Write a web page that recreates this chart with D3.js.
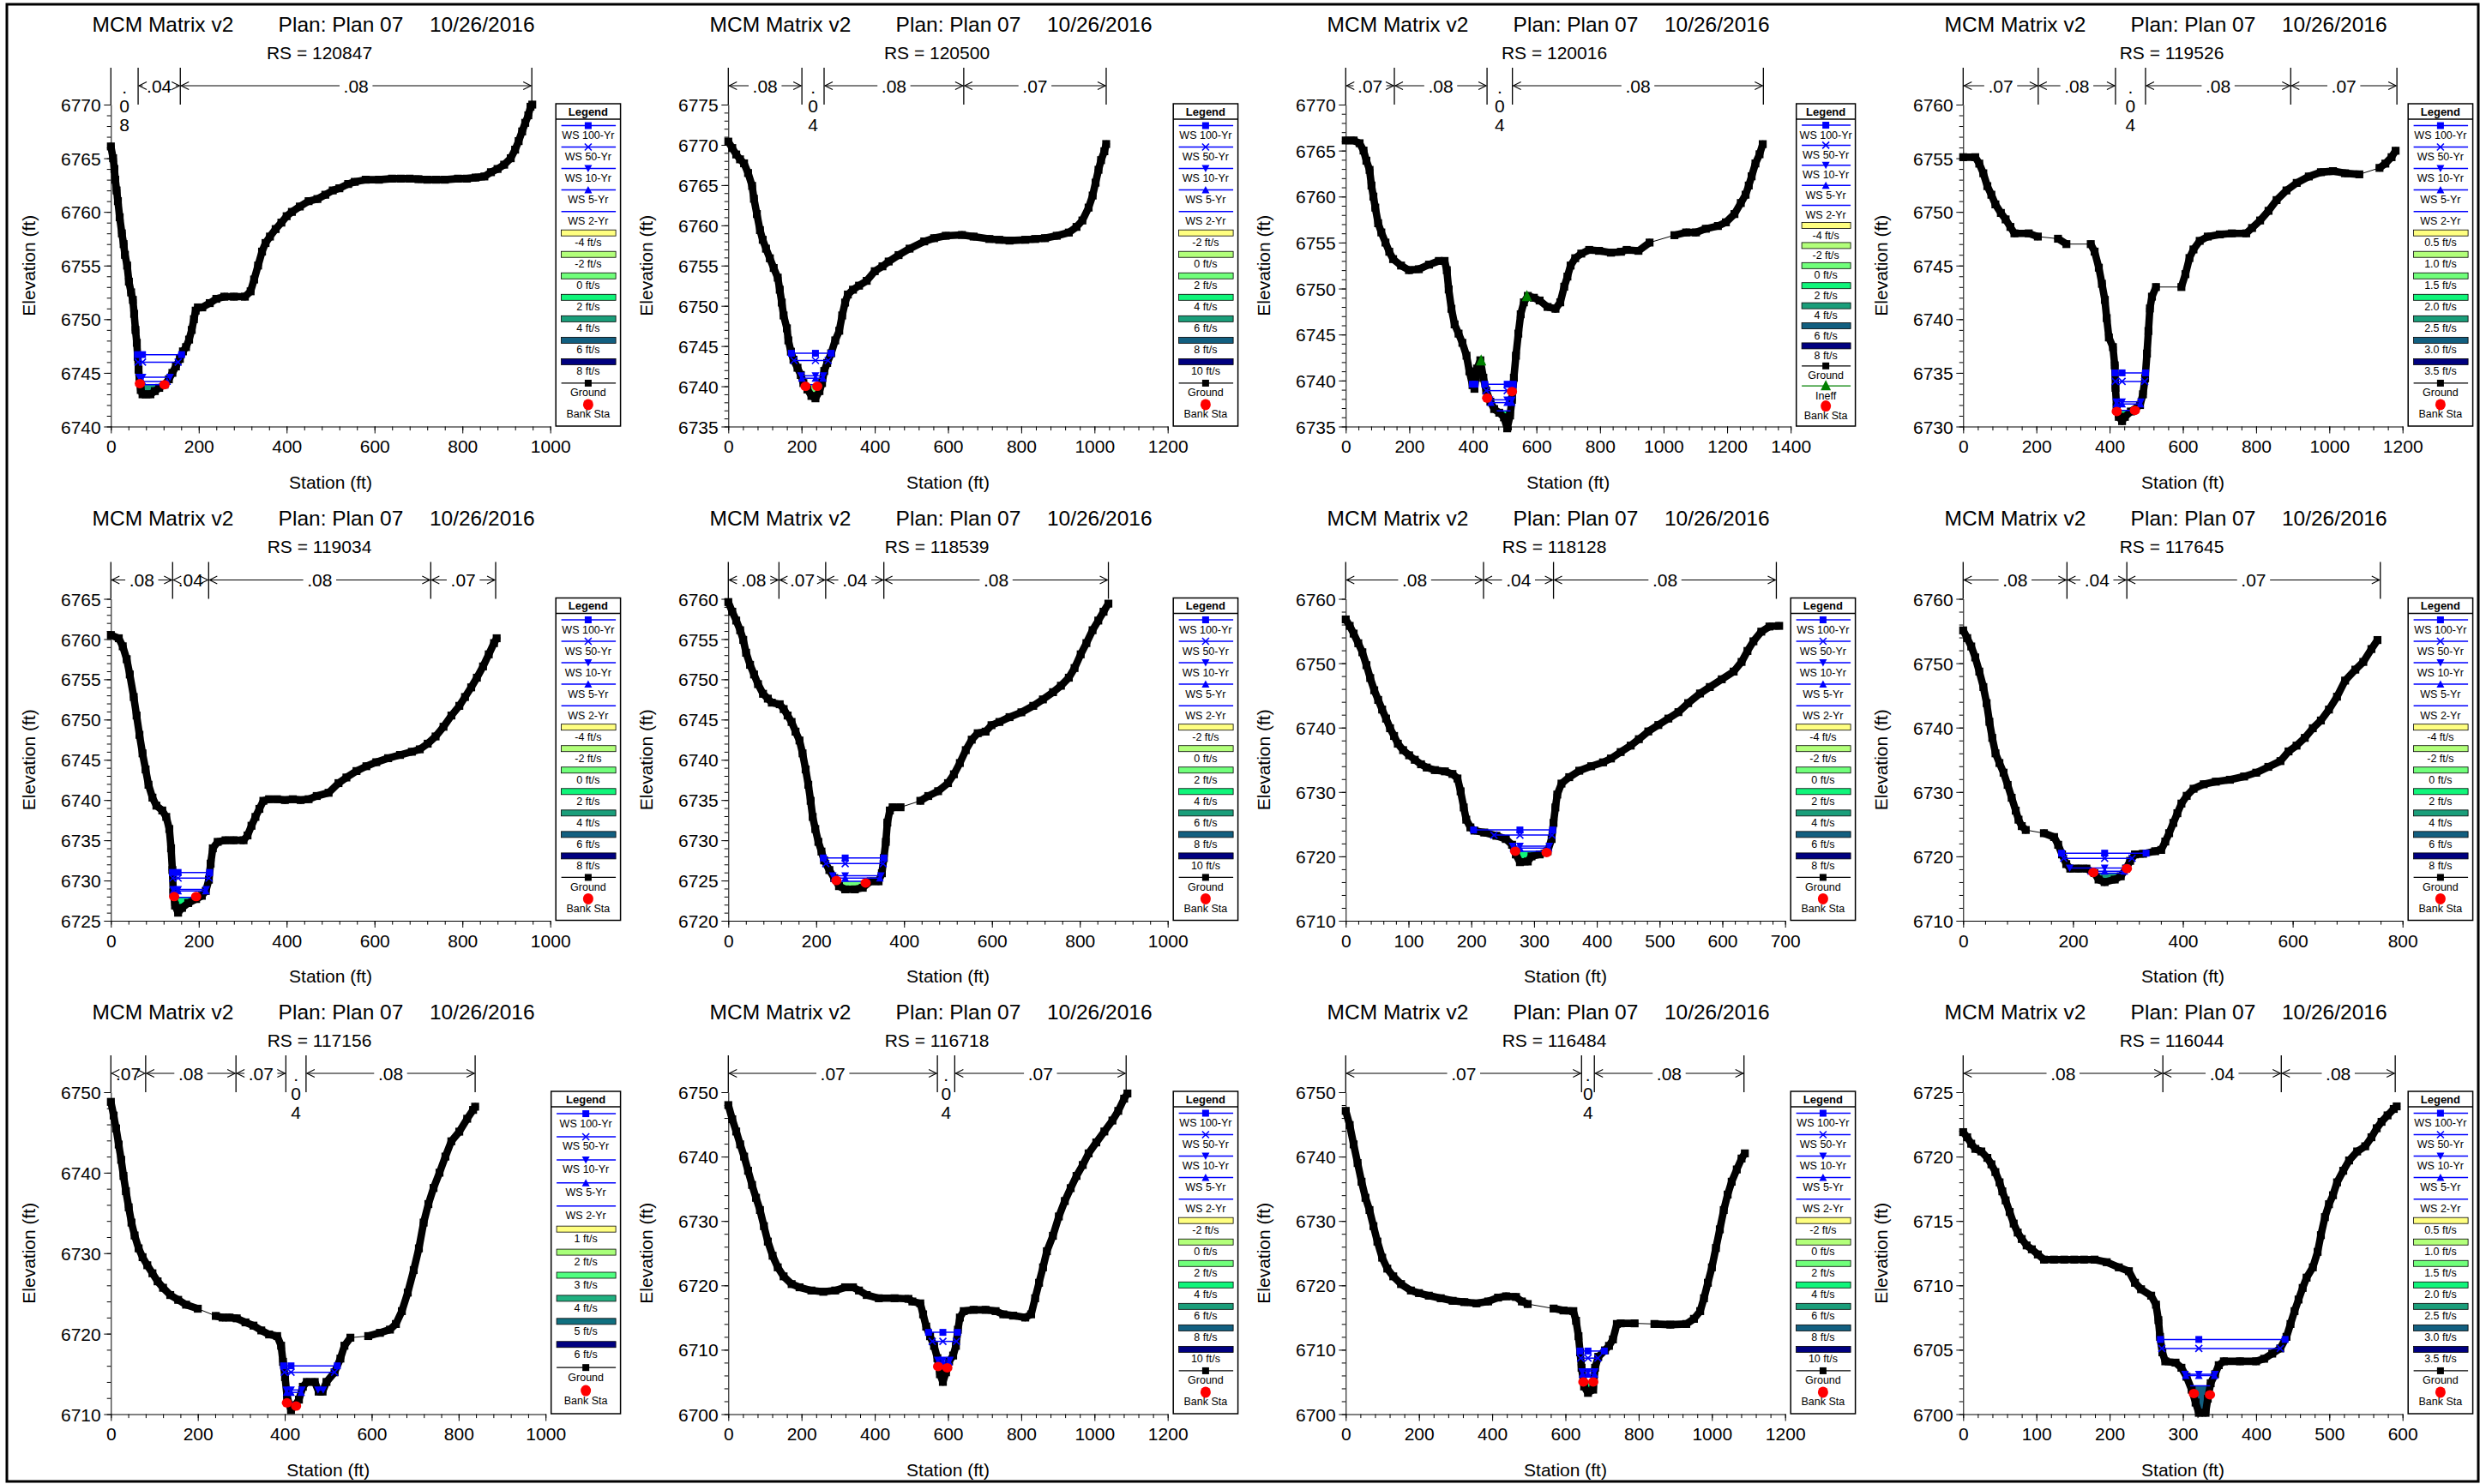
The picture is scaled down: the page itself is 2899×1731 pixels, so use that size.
<!DOCTYPE html>
<html><head><meta charset="utf-8">
<script src="https://cdn.jsdelivr.net/npm/d3@7"></script>
<style>
body{margin:0;background:#fff}
svg{display:block}
text{font-family:"Liberation Sans",Arial,Helvetica,sans-serif;fill:#000}
</style>
</head><body>
<svg id="chart" width="2899" height="1731"></svg>
<script>
// ---------------- DATA ----------------
const projectName = "MCM Matrix v2";
const planLabel = "Plan: Plan 07";
const planDate = "10/26/2016";
const axisTitles = ["Station (ft)", "Elevation (ft)"];
const legendTitle = "Legend";
const wsNames = ["WS 100-Yr", "WS 50-Yr", "WS 10-Yr", "WS 5-Yr", "WS 2-Yr"];
const groundName = "Ground", ineffName = "Ineff", bankName = "Bank Sta";

const stations = ["120847","120500","120016","119526","119034","118539","118128","117645","117156","116718","116484","116044"];
const xDomains = [[0,1000],[0,1200],[0,1400],[0,1200],[0,1000],[0,1000],[0,700],[0,800],[0,1000],[0,1200],[0,1200],[0,600]];
const xSteps = [200,200,200,200,200,200,100,200,200,200,200,100];
const yDomains = [[6740,6770],[6735,6775],[6735,6770],[6730,6760],[6725,6765],[6720,6760],[6710,6760],[6710,6760],[6710,6750],[6700,6750],[6700,6750],[6700,6725]];
const ySteps = [5,5,5,5,5,5,10,10,10,10,10,5];

// water surface elevations: 100, 50, 10, 5, 2 yr
const wsElev = [
  [6746.7,6746.0,6744.6,6744.2,6743.9],
  [6744.1,6743.2,6741.3,6741.0,6740.2],
  [6739.6,6738.9,6737.9,6737.6,6736.7],
  [6735.0,6734.2,6732.3,6732.1,6731.5],
  [6731.0,6730.3,6728.9,6728.7,6727.9],
  [6727.8,6727.1,6725.6,6725.3,6724.9],
  [6724.1,6723.3,6721.6,6721.3,6720.8],
  [6720.5,6719.7,6718.2,6717.7,6717.4],
  [6716.0,6715.2,6713.0,6712.7,6711.4],
  [6712.7,6711.3,6708.4,6708.1,6707.4],
  [6709.8,6708.7,6706.6,6706.2,6705.0],
  [6705.8,6705.1,6703.1,6703.0,6702.2]
];
const bankSta = [
  [[66,6744.0],[122,6743.9]],
  [[211,6740.0],[243,6740.0]],
  [[445,6738.1],[523,6738.8]],
  [[419.5,6731.4],[469,6731.5]],
  [[144,6728.0],[194,6728.0]],
  [[246,6725.0],[312.6,6724.7]],
  [[270,6720.8],[320,6720.6]],
  [[237,6717.5],[298,6718.1]],
  [[405,6711.4],[426,6711.0]],
  [[573,6707.4],[598,6707.2]],
  [[649,6705.0],[676,6705.0]],
  [[315,6701.6],[337,6701.5]]
];
const ineffSta = [[],[],[[426,6742.2],[570,6749.2]],[],[],[],[],[],[],[],[],[]];
const nBreaks = [
  [0,62,158,958],
  [0,201,261.6,643,1032],
  [0,153,444.6,524.4,1314],
  [0,205,416,498,894.6,1184.6],
  [0,140.5,222.5,728,875.7],
  [0,115.3,221.6,354,865],
  [0,219.5,331,686],
  [0,189,298,759.5],
  [0,80,287.8,402.6,449,838],
  [0,571,618.4,1086.5],
  [0,644,679,1087.6],
  [0,272.7,434.4,590]
];
const nValues = [
  [".08",".04",".08"],
  [".08",".04",".08",".07"],
  [".07",".08",".04",".08"],
  [".07",".08",".04",".08",".07"],
  [".08",".04",".08",".07"],
  [".08",".07",".04",".08"],
  [".08",".04",".08"],
  [".08",".04",".07"],
  [".07",".08",".07",".04",".08"],
  [".07",".04",".07"],
  [".07",".04",".08"],
  [".08",".04",".08"]
];
const velA = ["-4 ft/s","-2 ft/s","0 ft/s","2 ft/s","4 ft/s","6 ft/s","8 ft/s"];
const velB = ["-2 ft/s","0 ft/s","2 ft/s","4 ft/s","6 ft/s","8 ft/s","10 ft/s"];
const velC = ["0.5 ft/s","1.0 ft/s","1.5 ft/s","2.0 ft/s","2.5 ft/s","3.0 ft/s","3.5 ft/s"];
const velD = ["1 ft/s","2 ft/s","3 ft/s","4 ft/s","5 ft/s","6 ft/s"];
const velLegends = [velA, velB, velA, velC, velA, velB, velA, velA, velD, velB, velB, velC];
// channel velocity shown under the 2-yr water surface (ft/s)
const vel2yr = [4, 2, 2, 2.0, 2, 2, 2, 4, 4, 4, 4, 3.0];

// ground profiles [station, elevation]
const ground_120847 = [[0,6766.1],[5,6765],[8,6764],[10,6763],[13,6762],[16,6761],[20,6759.5],[25,6758],[29,6757],[32,6756],[37,6755],[41,6753.5],[46,6752.5],[50,6751.8],[53,6750.5],[56,6749],[59,6747.8],[61,6746.5],[63,6745.3],[65,6744.3],[68,6743.4],[72,6743],[80,6743],[90,6743],[100,6743.3],[110,6743.6],[122,6743.9],[132,6744.4],[140,6745],[148,6745.6],[157,6746.3],[164,6747],[171,6747.4],[178,6748.1],[184,6749],[189,6750],[193,6750.8],[198,6751.1],[208,6751.1],[225,6751.5],[240,6751.9],[258,6752.1],[280,6752.1],[305,6752.1],[318,6752.6],[326,6753.7],[335,6755],[344,6756.3],[352,6757.1],[362,6757.7],[375,6758.4],[388,6759],[400,6759.6],[412,6760],[430,6760.5],[450,6761],[470,6761.2],[488,6761.6],[505,6762],[520,6762.2],[540,6762.6],[555,6762.8],[580,6763],[610,6763],[640,6763.1],[660,6763.1],[680,6763.1],[700,6763.05],[720,6763],[740,6763],[760,6763],[790,6763.1],[810,6763.1],[830,6763.2],[850,6763.3],[865,6763.7],[880,6764],[895,6764.4],[910,6765],[920,6765.8],[928,6766.6],[936,6767.5],[943,6768.3],[950,6769],[955,6769.8],[959,6770]];
const ground_120500 = [[0,6770.4],[10.8,6769.6],[21.6,6768.8],[32,6768.2],[43,6767.7],[54,6766.5],[65,6764.9],[70,6763.3],[78,6761.4],[86.5,6759.4],[94,6758.2],[103,6757.1],[113.5,6755.9],[124,6754.7],[135,6753.5],[140.5,6752],[146,6750.4],[151,6748.8],[160,6747.2],[164,6745.7],[171,6744.3],[178,6743.3],[189,6742.3],[198,6741.4],[205,6740.4],[216,6739.6],[227,6738.8],[238,6738.5],[249,6739.4],[256,6740.4],[262,6741.9],[270,6742.9],[281,6744.1],[292,6745.7],[303,6746.9],[311,6748.8],[319,6750.4],[326.5,6751.4],[340.5,6752],[357,6752.5],[378,6753.1],[400,6754.3],[421,6754.9],[438,6755.5],[465,6756.3],[495,6757.1],[535,6758],[562,6758.4],[594,6758.7],[638,6758.8],[670,6758.6],[713,6758.3],[740,6758.2],[768,6758.1],[811,6758.2],[838,6758.3],[865,6758.4],[897,6758.7],[930,6759.1],[951,6759.8],[967,6760.6],[984,6762.2],[995,6763.7],[1003,6765.3],[1011,6766.9],[1018,6768.1],[1027,6769.2],[1032,6770.1]];
const ground_120016 = [[0,6766.1],[25,6766.1],[43.6,6765.8],[56,6765],[65,6763.9],[75,6762.9],[81,6761.2],[87,6760],[93,6758.8],[102,6757.1],[112,6756.1],[125,6755],[137,6754],[149,6753.2],[174,6752.5],[199,6752],[230,6752.1],[262,6752.6],[293,6753],[311,6753],[318,6752],[324,6749.9],[332.5,6747.8],[342.5,6746.1],[355,6745.1],[367,6744.1],[380,6742.7],[389,6741],[399,6739.5],[405,6739.1],[413.5,6741.3],[423.5,6742.2],[433,6740.3],[442,6738.9],[455,6737.7],[467,6736.9],[483,6736.5],[498,6736],[508,6734.8],[517,6736.2],[523,6737.9],[529,6740.3],[535.5,6742.7],[543,6745.1],[550.5,6747.2],[560.5,6748.5],[573,6749.2],[592,6749],[610,6748.7],[635,6748],[660,6747.8],[675,6748.5],[687.5,6750.2],[697.5,6751.3],[707.5,6752.5],[722,6753.3],[741,6753.8],[766,6754.2],[797,6754.1],[834.5,6753.9],[866,6754],[884,6754.2],[921,6754.1],[956,6755],[1034,6755.8],[1071,6756.1],[1102,6756.1],[1133,6756.5],[1171,6756.8],[1196,6757.2],[1223,6758.1],[1243,6759.3],[1258,6760.2],[1268,6761.2],[1277,6762.2],[1289,6763.6],[1302,6764.6],[1312,6765.7]];
const ground_119526 = [[0,6755.1],[33,6755.1],[44,6754.5],[55,6753.6],[66,6752.4],[77,6751.6],[88,6750.7],[103,6749.9],[116,6749.3],[129,6748.6],[140,6748],[179,6748],[204,6747.7],[259,6747.5],[282,6747],[348.5,6747],[359,6746.3],[370.5,6744.8],[379,6743.3],[387,6741.8],[392,6740.1],[398,6738.3],[409,6737.4],[414,6735.7],[416,6733.6],[419,6731.8],[425,6730.9],[434,6730.5],[441.6,6730.9],[458,6731.4],[483,6732],[491,6733],[497,6734.5],[502,6736.8],[506,6738.9],[510,6741],[515.6,6742.1],[526.6,6743],[596,6743],[607,6744.2],[618,6745.7],[629,6746.5],[646,6747.3],[668,6747.7],[701,6747.9],[734,6748],[773,6748],[789,6748.5],[811,6749.2],[834,6750.1],[856,6751.1],[883,6752],[911,6752.7],[944,6753.3],[977,6753.7],[1010,6753.8],[1043,6753.6],[1082,6753.5],[1137,6754.1],[1153,6754.5],[1170,6755.1],[1181,6755.7]];
const ground_119034 = [[0,6760.5],[18,6760.1],[27,6759.1],[36,6757.5],[43,6755.6],[52,6752.8],[58.5,6750.5],[65,6748.1],[72,6745.8],[79,6743.8],[85.6,6741.9],[94.6,6740.3],[103.6,6739.3],[117,6738.7],[126,6737.9],[133,6736.4],[137,6734],[140,6731.3],[142,6728.5],[146,6726.9],[153,6726],[162,6726.6],[176,6727.2],[194,6727.7],[207,6728.1],[216,6728.7],[223,6730.1],[227,6732.1],[232,6734],[243,6734.8],[261,6735],[279,6735],[302,6735],[311,6735.6],[320,6736.8],[329,6737.9],[338,6738.9],[347,6739.9],[360,6740.1],[378,6740.1],[396,6740],[414,6740.1],[432,6740],[450,6740.1],[468.5,6740.5],[495.5,6740.9],[518,6742.1],[536,6742.8],[559,6743.6],[581.5,6744.2],[604,6744.7],[631,6745.2],[658,6745.6],[685,6746],[703,6746.3],[721,6747],[739,6747.9],[757,6749.1],[775,6750.5],[793,6751.7],[806,6752.8],[820,6754],[833,6755.2],[847,6756.6],[860,6758.1],[872,6759.5],[878,6760.1]];
const ground_118539 = [[0,6759.6],[9,6758.4],[18,6757.3],[27,6756.1],[34,6754.9],[40.5,6753.3],[49.5,6751.8],[58.6,6750.6],[67.6,6749.4],[79,6748.2],[90,6747.6],[99,6747.1],[117,6746.9],[126,6746.3],[135,6745.5],[144,6744.7],[153,6743.5],[162,6742.4],[169,6740.8],[176,6738.8],[182,6736.9],[187.4,6734.9],[192,6732.9],[198,6731.4],[205,6729.8],[212,6728.6],[218,6727.5],[230,6726.3],[241,6725.3],[252,6724.3],[266,6723.9],[288,6723.9],[306,6724.1],[324,6724.9],[342,6724.9],[349.5,6725.9],[354,6727.8],[358.5,6729.8],[362,6732.2],[367.6,6733.7],[374,6734.1],[392,6734.1],[437,6734.9],[455,6735.5],[477.5,6736.1],[500,6737.1],[513.5,6738.2],[527,6739.6],[540.5,6741.2],[554,6742.5],[567.6,6743.3],[585.6,6743.5],[599,6744.3],[617,6744.7],[640,6745.3],[667,6745.9],[694,6746.7],[716,6747.5],[739,6748.4],[757,6749.2],[775,6750.2],[788,6751.4],[802,6753.1],[815,6754.5],[829,6756.1],[842,6757.3],[854,6758.4],[865,6759.4]];
const ground_118128 = [[0,6756.8],[6.3,6755.8],[12.6,6754.6],[20,6753.1],[26.5,6751.7],[33,6749.7],[39,6747.7],[45.4,6745.8],[51.7,6744.3],[58,6742.8],[64.3,6741.4],[70.6,6739.9],[77,6738.7],[83,6737.5],[91.4,6736.5],[101,6735.7],[110,6735],[120,6734.3],[129,6733.8],[142,6733.4],[158,6733.2],[170,6732.8],[178,6732.1],[183,6730.1],[188,6727.6],[192,6725.7],[198.6,6724.5],[205,6724],[220.7,6723.7],[240,6723.2],[255,6722.7],[265,6721.8],[271,6720.3],[277.5,6719.1],[290,6719.2],[296,6720],[309,6720.3],[321.6,6720.8],[328,6722.7],[331,6725.2],[334,6727.6],[337,6729.6],[343.7,6731.3],[356,6732.3],[372,6733.3],[391,6734],[410,6734.6],[422.5,6735.2],[438,6736.2],[454,6737.2],[467,6738.2],[482,6739.4],[498,6740.4],[514,6741.4],[530,6742.4],[545.5,6743.8],[564.4,6745.3],[580,6746.3],[599,6747.5],[618,6748.7],[630.6,6750.2],[640,6751.9],[649.5,6753.4],[662,6754.9],[675,6755.7],[690.5,6755.8]];
const ground_117645 = [[0,6755.1],[7.4,6753.9],[14.7,6752.6],[22,6750.9],[29.4,6748.7],[36.8,6746.3],[42.7,6743.8],[47.8,6740.9],[53,6738.4],[58.9,6736],[66,6734.5],[73.6,6733],[81,6731.1],[88.3,6729.1],[95.7,6727.1],[100.8,6725.7],[106.7,6724.7],[114,6724.1],[147,6723.6],[165.6,6723],[173,6721.8],[180,6720.3],[187.7,6718.8],[195,6718.1],[210,6718.1],[224.5,6718.1],[239,6717.4],[246.5,6716.4],[257.6,6716],[276,6716.4],[287,6716.9],[296.6,6718.1],[304,6719.3],[312.8,6720.3],[327.5,6720.4],[349.6,6720.8],[360.6,6721],[368,6722.3],[375,6723.6],[382.7,6725.2],[390,6726.7],[397.4,6728.2],[407,6729.4],[419.5,6730.5],[438,6731.2],[460,6731.6],[485.7,6731.9],[511.5,6732.4],[533.6,6733],[555.6,6733.9],[577.7,6734.8],[592.4,6736.3],[607,6737.2],[622,6738.4],[636.6,6739.9],[651.3,6741.1],[666,6742.8],[680.7,6744.8],[695.4,6747.3],[714,6749],[728.5,6750.2],[743.3,6752.2],[754.3,6753.6]];
const ground_117156 = [[0,6748.8],[6.4,6747.1],[12,6745.5],[18,6743.5],[23.7,6741.6],[29,6739.6],[34.6,6737.7],[41,6735.7],[47.4,6733.8],[54.6,6732.2],[63.8,6730.6],[72.9,6729.5],[83.8,6728.5],[95.6,6727.5],[107.5,6726.5],[120,6725.7],[136.6,6724.8],[154.8,6724.2],[173,6723.6],[200,6723.1],[241.3,6722.2],[257,6722],[273,6722],[289.6,6721.9],[309.7,6721.4],[328,6721],[346,6720.4],[364,6719.9],[382.5,6719.7],[391.6,6718.5],[396,6716.5],[400.7,6714.6],[405.3,6712.2],[414.4,6710.5],[423.5,6711.1],[432.6,6711.8],[441.7,6713.4],[450.8,6714],[469,6714],[478,6712.8],[487,6712.8],[496,6714],[514.6,6715.2],[528,6716.9],[537.3,6718.5],[551,6719.5],[592,6719.7],[619,6720.1],[642,6720.5],[655.7,6721.2],[669.4,6722.8],[683,6725.1],[696.7,6727.9],[708.6,6730.6],[719.5,6733.8],[730.4,6736.1],[742.3,6738.1],[756,6740],[769.6,6742],[783.2,6743.9],[801.5,6745.1],[819.7,6746.7],[833.3,6747.8],[838,6748.2]];
const ground_116718 = [[0,6748],[10.8,6745.8],[21.6,6743.9],[32.4,6741.9],[43.2,6740],[54,6737.8],[64.9,6735.6],[75.7,6733.6],[86.5,6731.7],[97.3,6729.2],[108,6726.8],[121,6724.6],[135,6722.8],[151,6721.4],[173,6720.2],[194.6,6719.7],[227,6719.2],[259.5,6719],[292,6719.2],[319,6719.7],[340.5,6719.7],[356.8,6719.2],[378,6718.5],[411,6718],[454,6718],[492,6717.9],[502.7,6717.5],[524.3,6717.2],[532,6715.5],[540.5,6713.6],[551,6712.1],[562,6710.6],[571,6708.7],[578,6706.2],[586,6705],[594.6,6706.5],[603,6708.2],[614,6709.1],[621.6,6710.6],[627,6713.1],[632.4,6715],[643,6716],[670,6716.2],[702.7,6716.2],[730,6716],[751,6715.5],[778,6715.3],[811,6715],[827,6715.5],[838,6718],[848.6,6720.4],[859.5,6722.8],[870,6725.3],[886.5,6727.7],[902.7,6730.7],[919,6733.1],[935,6735.1],[951,6737],[968,6738.7],[984,6740.5],[1005,6742.2],[1027,6743.9],[1049,6745.6],[1065,6747.1],[1081,6749],[1090,6749.8]];
const ground_116484 = [[0,6747.1],[10.8,6744.9],[21.6,6741.9],[32.4,6739],[43.2,6736.1],[54,6733.6],[64.9,6731.7],[75.7,6729.2],[86.5,6726.8],[99.5,6724.3],[113.5,6722.6],[129.7,6721.4],[151,6720.2],[178,6719.2],[200,6718.8],[227,6718.4],[259.5,6718],[292,6717.6],[324,6717.4],[357,6717.2],[389,6717.5],[416,6718.1],[438,6718.3],[465,6718.2],[481,6717.5],[497,6717.1],[567.6,6716.4],[594.6,6716.1],[621.6,6716],[629,6714.5],[635.7,6712.1],[640,6709.6],[644,6707.2],[651,6704.3],[661.6,6703.3],[675.7,6703.8],[681,6707.2],[689.7,6708.9],[708,6709.9],[719,6710.6],[729.7,6711.6],[740.5,6714],[751,6714.1],[789,6714.1],[843,6714],[886.5,6713.9],[930,6714],[951,6714.8],[968,6716],[978.4,6718],[989,6720.4],[1000,6722.8],[1011,6725.8],[1021.6,6728.7],[1032.4,6731.7],[1043,6734.1],[1054,6736.1],[1068,6738],[1081,6739.7],[1090,6740.5]];
const ground_116044 = [[0,6721.9],[5.5,6721.5],[11,6721],[16.6,6720.6],[24.8,6720.4],[33,6719.9],[38.6,6719.4],[44,6718.8],[49.7,6718],[53.5,6717.3],[58,6716.6],[63.5,6715.7],[69,6714.8],[74.5,6714.1],[80,6713.6],[86.7,6713.1],[93.8,6712.8],[102,6712.4],[110.4,6712],[124,6712],[138,6712],[151.8,6712],[165,6712],[179.4,6712],[196,6711.8],[212.5,6711.4],[226.3,6711.1],[234.6,6710.2],[242.9,6709.7],[256.7,6709.2],[263.3,6708.5],[266.6,6707.3],[268.8,6706],[272,6704.8],[276,6704.1],[290,6704],[298,6703.6],[305,6702.9],[312,6701.9],[317.4,6700.9],[321.8,6700.1],[331,6700.1],[334,6701.2],[338,6702.4],[344,6703.1],[349,6703.8],[356,6704.1],[378,6704.1],[400,6704.1],[411,6704.3],[422,6704.7],[433,6705.1],[441.5,6706],[447,6707],[452.5,6708],[458,6708.9],[463.6,6709.8],[469,6710.6],[477.5,6711.4],[484,6712.6],[488.5,6713.9],[494,6715.3],[499.5,6716.3],[505,6717],[510.6,6718],[519,6718.9],[527,6719.7],[538,6720.4],[549,6720.8],[557.5,6721.5],[564.7,6722.2],[571.3,6722.7],[579.5,6723.2],[588,6723.7],[592,6723.9]];
const grounds = [ground_120847, ground_120500, ground_120016, ground_119526, ground_119034, ground_118539, ground_118128, ground_117645, ground_117156, ground_116718, ground_116484, ground_116044];

// ---------------- LAYOUT / STYLE ----------------
const colX = [0, 720, 1440, 2160];
const rowY = [0, 576.5, 1152];
const PL = 129.3, PT = 122, PB = 497.5, LEG_R = 723.6;
const plotRight = [641.7,641.7,648.2,641.7,641.7,641.7,641.7,641.7,636.2,641.7,641.7,641.7];
const WS_COLOR = "#0000ff";
const pal7 = ["#ffff80","#b2ff7a","#70ff7a","#10f57a","#1a9e7a","#125f80","#000080"];
const pal6 = ["#ffff80","#a8ff7a","#50ff80","#20b080","#107080","#000080"];

const svg = d3.select("#chart");
svg.append("rect").attr("x",8).attr("y",5).attr("width",2882).attr("height",1723)
  .attr("fill","none").attr("stroke","#000").attr("stroke-width",3);

stations.forEach((rs, i) => drawPanel(i));

function steps(a, b, s) {
  const n = Math.round((b - a) / s);
  return d3.range(0, n + 1).map(k => +(a + k * s).toFixed(6));
}

function wsSegments(gr, w) {
  const segs = []; let cur = null;
  const cross = (a, b) => a[0] + (w - a[1]) / (b[1] - a[1]) * (b[0] - a[0]);
  if (gr[0][1] < w) cur = gr[0][0];
  for (let k = 0; k < gr.length - 1; k++) {
    const a = gr[k], b = gr[k + 1];
    const aB = a[1] < w, bB = b[1] < w;
    if (!aB && bB) cur = cross(a, b);
    if (aB && !bB) { segs.push([cur, cross(a, b)]); cur = null; }
  }
  if (cur !== null) segs.push([cur, gr[gr.length - 1][0]]);
  return segs;
}

function wsMarker(sel, type, cx, cy) {
  if (type === 0) {
    sel.append("rect").attr("x", cx - 4).attr("y", cy - 4).attr("width", 8).attr("height", 8).attr("fill", WS_COLOR);
  } else if (type === 1) {
    sel.append("path").attr("d", `M${cx-4},${cy-4}L${cx+4},${cy+4}M${cx-4},${cy+4}L${cx+4},${cy-4}`)
      .attr("stroke", WS_COLOR).attr("stroke-width", 1.6).attr("fill", "none");
  } else if (type === 2) {
    sel.append("path").attr("d", `M${cx-4.5},${cy-4}L${cx+4.5},${cy-4}L${cx},${cy+4.5}Z`).attr("fill", WS_COLOR);
  } else if (type === 3) {
    sel.append("path").attr("d", `M${cx-4.5},${cy+4}L${cx+4.5},${cy+4}L${cx},${cy-4.5}Z`).attr("fill", WS_COLOR);
  }
}

function drawPanel(i) {
  const col = i % 4, row = Math.floor(i / 4);
  const g = svg.append("g").attr("transform", `translate(${colX[col]},${rowY[row]})`);
  const pr = plotRight[i];
  const x = d3.scaleLinear().domain(xDomains[i]).range([PL, pr]);
  const y = d3.scaleLinear().domain(yDomains[i]).range([PB, PT]);
  const gr = grounds[i];

  // titles
  const t = g.append("g").attr("font-size", 24.5);
  t.append("text").attr("x", 107.6).attr("y", 36.6).text(projectName);
  t.append("text").attr("x", 324.6).attr("y", 36.6).text(planLabel);
  t.append("text").attr("x", 500.9).attr("y", 36.6).text(planDate);
  g.append("text").attr("x", 372.5).attr("y", 68.5).attr("text-anchor", "middle")
    .attr("font-size", 21).text("RS = " + stations[i]);

  // axes
  const [x0, x1] = xDomains[i], xs = xSteps[i];
  const [y0, y1] = yDomains[i], ys = ySteps[i];
  g.append("g").attr("transform", `translate(${PL},0)`)
    .call(d3.axisLeft(y).tickValues(steps(y0, y1, ys / 5)).tickSize(4.6).tickFormat(""))
    .call(a => a.select(".domain").remove());
  g.append("g").attr("transform", `translate(${PL},0)`)
    .call(d3.axisLeft(y).tickValues(steps(y0, y1, ys)).tickSize(8).tickSizeOuter(0).tickPadding(3.6).tickFormat(d3.format("d")))
    .attr("font-size", 21).call(a => a.selectAll("text").attr("dy", "0.36em"));
  g.append("g").attr("transform", `translate(0,${PB})`)
    .call(d3.axisBottom(x).tickValues(steps(x0, x1, xs / 5)).tickSize(4.6).tickFormat(""))
    .call(a => a.select(".domain").remove());
  g.append("g").attr("transform", `translate(0,${PB})`)
    .call(d3.axisBottom(x).tickValues(steps(x0, x1, xs)).tickSize(8).tickSizeOuter(0).tickPadding(7.6).tickFormat(d3.format("d")))
    .attr("font-size", 21);

  g.append("text").attr("x", (PL + pr) / 2).attr("y", 569.5).attr("text-anchor", "middle")
    .attr("font-size", 21).text(axisTitles[0]);
  g.append("text").attr("transform", `translate(40.7,${(PT + PB) / 2}) rotate(-90)`)
    .attr("text-anchor", "middle").attr("font-size", 21).text(axisTitles[1]);

  // n-values
  const nb = nBreaks[i], nv = nValues[i];
  const topY = PT - 43, arY = PT - 22;
  const ng = g.append("g");
  nb.forEach(s => ng.append("line").attr("x1", x(s)).attr("x2", x(s)).attr("y1", topY).attr("y2", PT)
    .attr("stroke", "#000").attr("stroke-width", 1.3));
  nv.forEach((lab, k) => {
    const xa = x(nb[k]), xb = x(nb[k + 1]), w = xb - xa, cx = (xa + xb) / 2;
    if (w < 36) {
      lab.split("").forEach((ch, j) => {
        ng.append("text").attr("x", cx).attr("y", arY + 9 + j * 22).attr("text-anchor", "middle")
          .attr("font-size", 21).text(ch);
      });
    } else {
      const tx = ng.append("text").attr("x", cx).attr("y", arY + 7.5).attr("text-anchor", "middle")
        .attr("font-size", 21).text(lab);
      const tw = tx.node().getComputedTextLength();
      const l1 = cx - tw / 2 - 4.6, r1 = cx + tw / 2 + 4.6;
      if (l1 > xa + 2) ng.append("line").attr("x1", xa + 1).attr("x2", l1).attr("y1", arY).attr("y2", arY).attr("stroke", "#000");
      if (r1 < xb - 2) ng.append("line").attr("x1", r1).attr("x2", xb - 1).attr("y1", arY).attr("y2", arY).attr("stroke", "#000");
      ng.append("path").attr("d", `M${xa + 10},${arY - 4.6}L${xa + 1},${arY}L${xa + 10},${arY + 4.6}`)
        .attr("fill", "none").attr("stroke", "#000").attr("stroke-width", 1.1);
      ng.append("path").attr("d", `M${xb - 10},${arY - 4.6}L${xb - 1},${arY}L${xb - 10},${arY + 4.6}`)
        .attr("fill", "none").attr("stroke", "#000").attr("stroke-width", 1.1);
    }
  });

  // velocity legend colours
  const vl = velLegends[i];
  const pal = vl.length === 7 ? pal7 : pal6;
  const vVals = vl.map(s => parseFloat(s));
  const vIdx = d3.leastIndex(vVals, v => Math.abs(v - vel2yr[i]));

  // 2-yr velocity fill
  const w2 = wsElev[i][4];
  wsSegments(gr, w2).forEach(([a, b]) => {
    const pts = [[a, w2]].concat(gr.filter(p => p[0] > a && p[0] < b)).concat([[b, w2]]);
    g.append("path").attr("d", d3.line().x(p => x(p[0])).y(p => y(p[1]))(pts) + "Z")
      .attr("fill", pal[vIdx]).attr("stroke", "none");
  });

  // WS lines
  const thal = gr[d3.minIndex(gr, p => p[1])][0];
  const wsG = g.append("g");
  const wsMk = [];
  wsElev[i].forEach((w, k) => {
    wsSegments(gr, w).forEach(([a, b]) => {
      wsG.append("line").attr("x1", x(a)).attr("x2", x(b)).attr("y1", y(w)).attr("y2", y(w))
        .attr("stroke", WS_COLOR).attr("stroke-width", 1.5);
      if (k < 4) {
        wsMk.push([k, a, w], [k, b, w]);
        if (thal > a && thal < b) wsMk.push([k, thal, w]);
      }
    });
  });

  // ground
  const gg = g.append("g");
  for (let k = 0; k < gr.length - 1; k++) {
    const a = gr[k], b = gr[k + 1];
    const dx = Math.abs(x(b[0]) - x(a[0]));
    gg.append("line").attr("x1", x(a[0])).attr("y1", y(a[1])).attr("x2", x(b[0])).attr("y2", y(b[1]))
      .attr("stroke", "#000").attr("stroke-width", dx > 20 ? 1 : 8.6).attr("stroke-linecap", "round");
  }
  gg.selectAll("rect").data(gr).join("rect")
    .attr("x", p => x(p[0]) - 4.6).attr("y", p => y(p[1]) - 4.6).attr("width", 9.2).attr("height", 9.2).attr("fill", "#000");

  // WS markers
  wsMk.forEach(([k, s, w]) => wsMarker(wsG.raise(), k, x(s), y(w)));

  // ineffective
  ineffSta[i].forEach(([s, e]) => {
    const cx = x(s), cy = y(e);
    g.append("path").attr("d", `M${cx - 6},${cy + 6}L${cx + 6},${cy + 6}L${cx},${cy - 7}Z`).attr("fill", "#008000");
  });
  // banks
  bankSta[i].forEach(([s, e]) => {
    g.append("ellipse").attr("cx", x(s)).attr("cy", y(e)).attr("rx", 6).attr("ry", 5.5).attr("fill", "#ff0000");
  });

  // legend
  const lx0 = pr + 6.5, lx1 = LEG_R, lt = PT - 1, lb = PB - 0.5;
  const lg = g.append("g");
  lg.append("rect").attr("x", lx0).attr("y", lt).attr("width", lx1 - lx0).attr("height", lb - lt)
    .attr("fill", "#fff").attr("stroke", "#000").attr("stroke-width", 1.5);
  const hy = lt + 18;
  lg.append("line").attr("x1", lx0).attr("x2", lx1).attr("y1", hy).attr("y2", hy).attr("stroke", "#000").attr("stroke-width", 1.5);
  const lcx = (lx0 + lx1) / 2;
  lg.append("text").attr("x", lcx).attr("y", lt + 13.5).attr("text-anchor", "middle").attr("font-size", 13)
    .attr("font-weight", "bold").text(legendTitle);
  const items = [];
  wsNames.forEach((n, k) => items.push({ kind: "ws", k, label: n }));
  vl.forEach((n, k) => items.push({ kind: "vel", color: pal[k], label: n }));
  items.push({ kind: "ground", label: groundName });
  if (ineffSta[i].length) items.push({ kind: "ineff", label: ineffName });
  items.push({ kind: "bank", label: bankName });
  const pitch = (lb - hy) / (items.length + 0.3);
  const sx0 = lx0 + 6.4, sx1 = lx1 - 5.5;
  items.forEach((it, k) => {
    const cy = hy + pitch * (k + 0.3);
    if (it.kind === "ws") {
      lg.append("line").attr("x1", sx0).attr("x2", sx1).attr("y1", cy).attr("y2", cy).attr("stroke", WS_COLOR).attr("stroke-width", 1.5);
      wsMarker(lg, it.k, lcx, cy);
    } else if (it.kind === "vel") {
      lg.append("rect").attr("x", sx0).attr("y", cy - 3.5).attr("width", sx1 - sx0).attr("height", 7)
        .attr("fill", it.color).attr("stroke", "#000").attr("stroke-width", 0.8);
    } else if (it.kind === "ground") {
      lg.append("line").attr("x1", sx0).attr("x2", sx1).attr("y1", cy).attr("y2", cy).attr("stroke", "#000").attr("stroke-width", 1.2);
      lg.append("rect").attr("x", lcx - 4).attr("y", cy - 4).attr("width", 8).attr("height", 8).attr("fill", "#000");
    } else if (it.kind === "ineff") {
      lg.append("line").attr("x1", sx0).attr("x2", sx1).attr("y1", cy).attr("y2", cy).attr("stroke", "#008000").attr("stroke-width", 1.2);
      lg.append("path").attr("d", `M${lcx - 6},${cy + 5}L${lcx + 6},${cy + 5}L${lcx},${cy - 7}Z`).attr("fill", "#008000");
    } else {
      lg.append("ellipse").attr("cx", lcx).attr("cy", cy).attr("rx", 6).attr("ry", 6.5).attr("fill", "#ff0000");
    }
    lg.append("text").attr("x", lcx).attr("y", cy + 15.5).attr("text-anchor", "middle").attr("font-size", 12.5).text(it.label);
  });
}
</script>
</body></html>
